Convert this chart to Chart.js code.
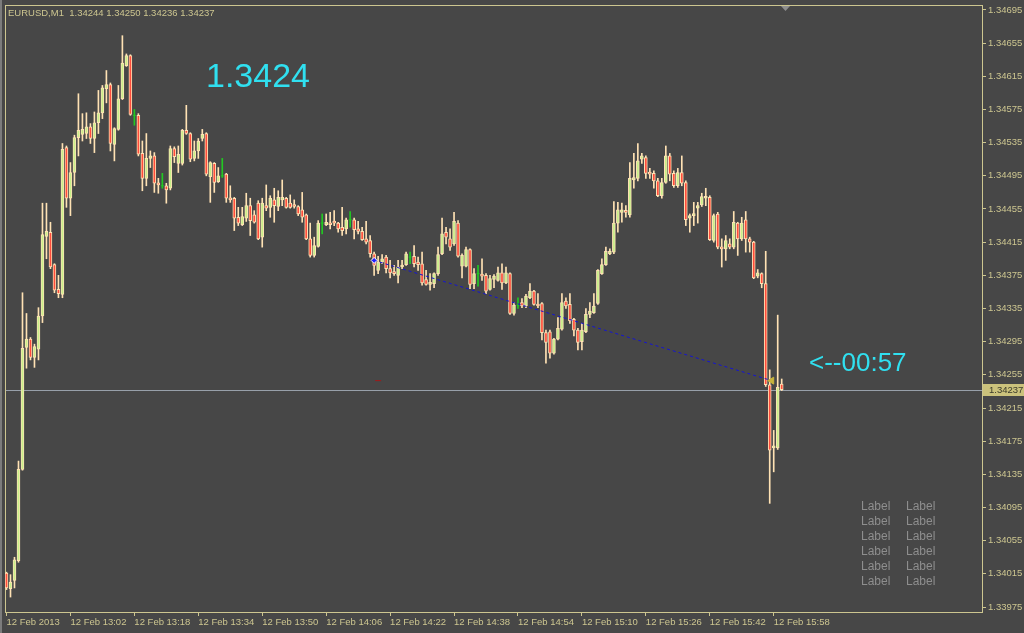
<!DOCTYPE html>
<html>
<head>
<meta charset="utf-8">
<script src="https://cdn.jsdelivr.net/npm/chart.js@4.4.1/dist/chart.umd.min.js"></script>
<style>
  html, body { margin: 0; padding: 0; background: #474747; overflow: hidden; }
  canvas { display: block; }
</style>
</head>
<body>
<canvas id="mt4" width="1024" height="633"></canvas>
<script>
// EURUSD M1, 12 Feb 2013 12:46 .. 16:00, one bar per minute
const symbol = 'EURUSD,M1';

const opens = [
  1.34016,1.33997,1.34007,1.34031,1.34141,1.34288,1.34298,1.34276,1.34286,1.34326,
  1.34422,1.34427,1.34388,1.34358,1.34352,1.34529,1.34468,1.34499,1.34541,1.34545,
  1.34546,1.34554,1.34540,1.34559,1.34571,1.34600,1.34605,1.34533,1.34551,1.34588,
  1.34628,1.34640,1.34568,1.34568,1.34522,1.34492,1.34516,1.34519,1.34486,1.34483,
  1.34483,1.34480,1.34528,1.34510,1.34510,1.34550,1.34546,1.34516,1.34525,1.34540,
  1.34546,1.34494,1.34510,1.34488,1.34495,1.34497,1.34468,1.34468,1.34445,1.34436,
  1.34444,1.34459,1.34448,1.34462,1.34421,1.34459,1.34457,1.34466,1.34458,1.34466,
  1.34468,1.34462,1.34460,1.34458,1.34454,1.34448,1.34419,1.34399,1.34410,1.34438,
  1.34436,1.34438,1.34439,1.34438,1.34433,1.34431,1.34442,1.34442,1.34431,1.34428,
  1.34419,1.34417,1.34401,1.34381,1.34391,1.34397,1.34383,1.34378,1.34375,1.34385,
  1.34388,1.34397,1.34398,1.34391,1.34389,1.34370,1.34364,1.34365,1.34377,1.34401,
  1.34427,1.34419,1.34413,1.34438,1.34386,1.34386,1.34406,1.34365,1.34377,1.34376,
  1.34375,1.34358,1.34370,1.34369,1.34378,1.34366,1.34377,1.34329,1.34339,1.34342,
  1.34338,1.34348,1.34356,1.34340,1.34341,1.34306,1.34307,1.34281,1.34298,1.34310,
  1.34344,1.34340,1.34322,1.34309,1.34295,1.34307,1.34328,1.34330,1.34341,1.34377,
  1.34388,1.34401,1.34403,1.34438,1.34451,1.34453,1.34448,1.34490,1.34492,1.34515,
  1.34517,1.34499,1.34498,1.34489,1.34471,1.34487,1.34519,1.34498,1.34483,1.34499,
  1.34487,1.34444,1.34447,1.34456,1.34460,1.34468,1.34469,1.34417,1.34449,1.34409,
  1.34407,1.34413,1.34409,1.34438,1.34419,1.34442,1.34419,1.34415,1.34374,1.34377,
  1.34365,1.34243,1.34167,1.34167,1.34244
];
const highs = [
  1.34017,1.34014,1.34035,1.34151,1.34354,1.34329,1.34300,1.34292,1.34336,1.34462,
  1.34462,1.34439,1.34389,1.34375,1.34534,1.34531,1.34511,1.34544,1.34594,1.34570,
  1.34571,1.34558,1.34572,1.34598,1.34604,1.34622,1.34607,1.34553,1.34604,1.34664,
  1.34642,1.34641,1.34575,1.34570,1.34537,1.34546,1.34525,1.34523,1.34492,1.34498,
  1.34486,1.34531,1.34530,1.34531,1.34551,1.34580,1.34547,1.34537,1.34540,1.34551,
  1.34547,1.34512,1.34511,1.34505,1.34516,1.34498,1.34483,1.34469,1.34457,1.34457,
  1.34474,1.34468,1.34453,1.34465,1.34468,1.34484,1.34471,1.34480,1.34477,1.34490,
  1.34469,1.34472,1.34466,1.34459,1.34475,1.34449,1.34438,1.34421,1.34441,1.34449,
  1.34449,1.34451,1.34453,1.34439,1.34457,1.34444,1.34452,1.34444,1.34440,1.34433,
  1.34440,1.34423,1.34403,1.34398,1.34400,1.34399,1.34393,1.34387,1.34393,1.34393,
  1.34403,1.34403,1.34411,1.34397,1.34403,1.34381,1.34377,1.34378,1.34409,1.34444,
  1.34433,1.34431,1.34451,1.34441,1.34401,1.34409,1.34407,1.34383,1.34387,1.34395,
  1.34377,1.34375,1.34376,1.34385,1.34389,1.34385,1.34378,1.34342,1.34348,1.34347,
  1.34352,1.34365,1.34357,1.34353,1.34342,1.34309,1.34309,1.34299,1.34324,1.34353,
  1.34348,1.34353,1.34323,1.34311,1.34317,1.34335,1.34342,1.34353,1.34382,1.34395,
  1.34409,1.34407,1.34464,1.34463,1.34462,1.34459,1.34511,1.34522,1.34534,1.34522,
  1.34519,1.34504,1.34501,1.34492,1.34492,1.34531,1.34522,1.34501,1.34504,1.34519,
  1.34489,1.34449,1.34463,1.34463,1.34474,1.34480,1.34471,1.34449,1.34451,1.34419,
  1.34423,1.34419,1.34452,1.34439,1.34445,1.34452,1.34421,1.34416,1.34382,1.34378,
  1.34404,1.34261,1.34188,1.34327,1.34250
];
const lows = [
  1.33996,1.33987,1.33998,1.34029,1.34140,1.34263,1.34273,1.34264,1.34273,1.34318,
  1.34395,1.34383,1.34354,1.34348,1.34348,1.34457,1.34447,1.34483,1.34519,1.34537,
  1.34540,1.34534,1.34523,1.34546,1.34564,1.34583,1.34525,1.34513,1.34550,1.34587,
  1.34627,1.34568,1.34556,1.34519,1.34477,1.34483,1.34505,1.34475,1.34474,1.34480,
  1.34462,1.34478,1.34511,1.34499,1.34508,1.34545,1.34512,1.34513,1.34516,1.34537,
  1.34495,1.34463,1.34475,1.34487,1.34493,1.34463,1.34463,1.34429,1.34435,1.34435,
  1.34440,1.34423,1.34438,1.34418,1.34409,1.34453,1.34445,1.34439,1.34453,1.34459,
  1.34456,1.34456,1.34456,1.34447,1.34439,1.34418,1.34397,1.34397,1.34409,1.34425,
  1.34435,1.34431,1.34435,1.34427,1.34423,1.34425,1.34433,1.34419,1.34425,1.34417,
  1.34413,1.34397,1.34375,1.34377,1.34389,1.34378,1.34372,1.34375,1.34366,1.34383,
  1.34387,1.34389,1.34385,1.34381,1.34363,1.34363,1.34357,1.34360,1.34375,1.34400,
  1.34413,1.34405,1.34411,1.34397,1.34372,1.34385,1.34359,1.34359,1.34362,1.34369,
  1.34353,1.34357,1.34360,1.34368,1.34358,1.34365,1.34328,1.34327,1.34335,1.34336,
  1.34336,1.34347,1.34339,1.34336,1.34297,1.34269,1.34275,1.34280,1.34297,1.34309,
  1.34335,1.34317,1.34302,1.34285,1.34285,1.34306,1.34324,1.34329,1.34340,1.34376,
  1.34387,1.34400,1.34401,1.34427,1.34439,1.34445,1.34445,1.34480,1.34489,1.34510,
  1.34492,1.34492,1.34480,1.34470,1.34468,1.34486,1.34489,1.34481,1.34481,1.34483,
  1.34435,1.34427,1.34435,1.34438,1.34458,1.34459,1.34417,1.34415,1.34407,1.34385,
  1.34393,1.34407,1.34407,1.34399,1.34417,1.34403,1.34403,1.34371,1.34372,1.34360,
  1.34241,1.34100,1.34138,1.34165,1.34236
];
const closes = [
  1.33998,1.34005,1.34032,1.34141,1.34287,1.34298,1.34276,1.34289,1.34326,1.34424,
  1.34428,1.34385,1.34357,1.34353,1.34527,1.34468,1.34499,1.34541,1.34550,1.34551,
  1.34554,1.34540,1.34559,1.34571,1.34601,1.34605,1.34534,1.34552,1.34588,1.34631,
  1.34640,1.34569,1.34568,1.34521,1.34492,1.34516,1.34519,1.34486,1.34484,1.34483,
  1.34478,1.34528,1.34518,1.34521,1.34550,1.34546,1.34515,1.34525,1.34537,1.34545,
  1.34497,1.34511,1.34487,1.34495,1.34495,1.34468,1.34466,1.34444,1.34438,1.34446,
  1.34459,1.34441,1.34439,1.34419,1.34462,1.34456,1.34468,1.34459,1.34469,1.34469,
  1.34457,1.34457,1.34458,1.34449,1.34445,1.34419,1.34399,1.34411,1.34438,1.34438,
  1.34439,1.34436,1.34438,1.34431,1.34429,1.34442,1.34442,1.34430,1.34428,1.34418,
  1.34415,1.34401,1.34387,1.34391,1.34395,1.34383,1.34378,1.34377,1.34385,1.34387,
  1.34401,1.34397,1.34389,1.34388,1.34366,1.34364,1.34366,1.34377,1.34400,1.34425,
  1.34421,1.34409,1.34440,1.34398,1.34399,1.34406,1.34364,1.34377,1.34377,1.34374,
  1.34356,1.34371,1.34374,1.34378,1.34366,1.34378,1.34329,1.34339,1.34339,1.34338,
  1.34350,1.34356,1.34340,1.34338,1.34306,1.34294,1.34281,1.34298,1.34311,1.34342,
  1.34338,1.34320,1.34309,1.34294,1.34309,1.34328,1.34332,1.34338,1.34381,1.34388,
  1.34404,1.34404,1.34438,1.34454,1.34454,1.34451,1.34492,1.34493,1.34513,1.34519,
  1.34498,1.34497,1.34489,1.34471,1.34487,1.34519,1.34497,1.34483,1.34499,1.34486,
  1.34442,1.34447,1.34449,1.34459,1.34470,1.34469,1.34418,1.34447,1.34409,1.34407,
  1.34417,1.34409,1.34439,1.34419,1.34438,1.34419,1.34415,1.34372,1.34378,1.34365,
  1.34243,1.34164,1.34168,1.34240,1.34237
];

// time axis: a label every 16 bars
const timeTickBars = [0, 16, 32, 48, 64, 80, 96, 112, 128, 144, 160, 176, 192];
const timeTickLabels = ['12 Feb 2013', '12 Feb 13:02', '12 Feb 13:18', '12 Feb 13:34', '12 Feb 13:50',
  '12 Feb 14:06', '12 Feb 14:22', '12 Feb 14:38', '12 Feb 14:54', '12 Feb 15:10',
  '12 Feb 15:26', '12 Feb 15:42', '12 Feb 15:58'];

const priceTicks = [1.33975, 1.34015, 1.34055, 1.34095, 1.34135, 1.34175, 1.34215, 1.34255, 1.34295,
  1.34335, 1.34375, 1.34415, 1.34455, 1.34495, 1.34535, 1.34575, 1.34615, 1.34655, 1.34695];

// trend line drawn on the chart (bar index, price)
const trendBars = [92, 191.5];
const trendPrices = [1.34393, 1.34248];

const BG = '#474747';
const FG = '#cdc690';
const CREAM = '#ffe2b4';
const BULL = '#c6f08a';
const BEAR = '#ff4c3c';
const DOJI = '#22c822';
const CYAN = '#30e0f0';

const bars = opens.map((o, i) => i);
const isDoji = i => opens[i] === closes[i];

const wickData = bars.map(i => ({ x: i, y: [lows[i], highs[i]] }));
const bodyData = bars.filter(i => !isDoji(i)).map(i => ({ x: i, y: [opens[i], closes[i]] }));
const dojiData = bars.filter(isDoji).map(i => ({ x: i, y: opens[i] }));
const trendData = trendBars.map((b, k) => ({ x: b, y: trendPrices[k] }));

const last = closes.length - 1;

const mt4Overlay = {
  id: 'mt4Overlay',
  beforeDraw(chart) {
    const { ctx, width, height } = chart;
    ctx.save();
    ctx.fillStyle = BG;
    ctx.fillRect(0, 0, width, height);
    ctx.fillStyle = '#7c7c7c';
    ctx.fillRect(0, 0, 2, height);
    ctx.restore();
  },
  beforeDatasetsDraw(chart) {
    const { ctx, chartArea: { left, right, top, bottom }, scales: { y } } = chart;
    ctx.save();
    // frame
    ctx.strokeStyle = FG;
    ctx.lineWidth = 1;
    ctx.strokeRect(left + 0.5, top + 0.5, right - left, bottom - top);
    // bid line
    const py = Math.round(y.getPixelForValue(closes[last])) + 0.5;
    ctx.strokeStyle = '#98a0aa';
    ctx.beginPath(); ctx.moveTo(left + 1, py); ctx.lineTo(right, py); ctx.stroke();
    // chart shift marker
    ctx.fillStyle = '#8e8e8e';
    ctx.beginPath(); ctx.moveTo(781, top + 1); ctx.lineTo(790, top + 1); ctx.lineTo(785.5, top + 6); ctx.closePath(); ctx.fill();
    ctx.restore();
  },
  afterDraw(chart) {
    const { ctx, chartArea: { right }, scales: { y } } = chart;
    ctx.save();
    // header
    ctx.font = '9.5px "Liberation Sans"';
    ctx.fillStyle = FG;
    ctx.textBaseline = 'alphabetic';
    ctx.fillText(symbol + '  ' + [opens[last], highs[last], lows[last], closes[last]].map(v => v.toFixed(5)).join(' '), 8, 16);
    // bid price box on the axis
    const py = Math.round(y.getPixelForValue(closes[last]));
    ctx.fillStyle = '#cbc27c';
    ctx.fillRect(right + 1, py - 6, 1024 - right - 1, 12);
    ctx.fillStyle = '#3a3a2a';
    ctx.textBaseline = 'middle';
    ctx.fillText(closes[last].toFixed(5), right + 7, py + 0.5);
    // bid text and bar timer
    ctx.fillStyle = CYAN;
    ctx.textBaseline = 'alphabetic';
    ctx.font = '34px "Liberation Sans"';
    ctx.fillText(closes[last].toFixed(4), 206, 87);
    ctx.font = '26px "Liberation Sans"';
    ctx.fillText('<--00:57', 809, 371);
    // label grid
    ctx.font = '12px "Liberation Sans"';
    ctx.fillStyle = '#8e8e8e';
    for (let r = 0; r < 6; r++) {
      ctx.fillText('Label', 861, 510 + r * 15);
      ctx.fillText('Label', 906, 510 + r * 15);
    }
    ctx.restore();
  }
};

Chart.defaults.font.family = '"Liberation Sans", Arial, sans-serif';

new Chart(document.getElementById('mt4').getContext('2d'), {
  type: 'bar',
  data: {
    datasets: [
      {
        type: 'bar',
        data: wickData,
        backgroundColor: c => isDoji(c.raw.x) ? DOJI : CREAM,
        barThickness: 1,
        grouped: false,
        order: 3
      },
      {
        type: 'bar',
        data: bodyData,
        backgroundColor: c => c.raw.y[1] > c.raw.y[0] ? BULL : BEAR,
        borderColor: CREAM,
        borderWidth: 1,
        borderSkipped: false,
        barThickness: 3,
        minBarLength: 2,
        grouped: false,
        order: 2
      },
      {
        type: 'scatter',
        data: dojiData,
        pointStyle: 'line',
        pointRadius: 1.5,
        borderColor: DOJI,
        borderWidth: 1,
        order: 1
      },
      {
        type: 'line',
        data: trendData,
        borderColor: '#1414d2',
        borderWidth: 1,
        borderDash: [3, 3],
        pointStyle: ['rectRot', 'triangle'],
        rotation: [0, -90],
        pointRadius: [3, 4],
        pointBackgroundColor: ['#2020ff', '#c8b43c'],
        pointBorderColor: ['#ffffff', '#c8b43c'],
        pointBorderWidth: 1,
        order: 0
      },
      {
        type: 'scatter',
        data: [{ x: 93, y: trendPrices[1] }],
        pointStyle: 'line',
        pointRadius: 3,
        borderColor: '#a01818',
        borderWidth: 1,
        order: 0
      }
    ]
  },
  options: {
    responsive: false,
    animation: false,
    events: [],
    layout: { padding: { left: 4, top: 4, right: 0, bottom: 0 } },
    plugins: { legend: { display: false }, tooltip: { enabled: false } },
    scales: {
      x: {
        type: 'linear',
        min: -0.375,
        max: 244.125,
        offset: false,
        grid: { offset: false, drawOnChartArea: false, drawTicks: true, tickLength: 4, color: FG },
        border: { display: false },
        ticks: {
          color: FG,
          font: { size: 9.5 },
          align: 'start',
          padding: 1,
          maxRotation: 0,
          autoSkip: false,
          callback: (v, i) => timeTickLabels[i]
        },
        afterBuildTicks: s => { s.ticks = timeTickBars.map(v => ({ value: v })); },
        afterFit: s => { s.height = 21; s.paddingLeft = 0; s.paddingRight = 0; }
      },
      y: {
        position: 'right',
        min: 1.3396898,
        max: 1.3470102,
        beginAtZero: false,
        grid: { drawOnChartArea: false, drawTicks: true, tickLength: 4, color: FG },
        border: { display: false },
        ticks: {
          color: FG,
          font: { size: 9.5 },
          padding: 2,
          autoSkip: false,
          callback: v => v.toFixed(5)
        },
        afterBuildTicks: s => { s.ticks = priceTicks.map(v => ({ value: v })); },
        afterFit: s => { s.width = 42; s.paddingTop = 0; s.paddingBottom = 0; }
      }
    }
  },
  plugins: [mt4Overlay]
});
</script>
</body>
</html>
